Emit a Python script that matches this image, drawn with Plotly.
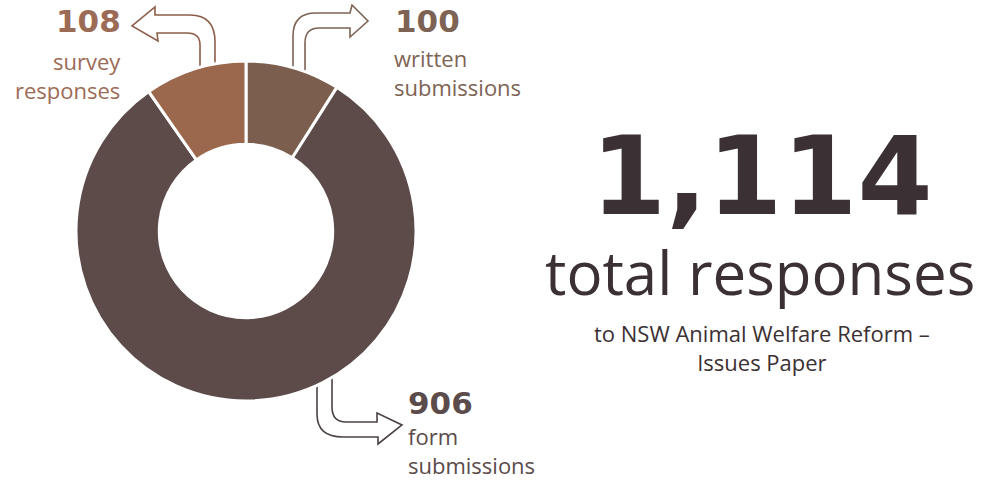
import plotly.graph_objects as go

W, H = 982, 481

categories = ["written submissions", "form submissions", "survey responses"]
values = [100, 906, 108]
slice_colors = ["#7b5e4e", "#5d4b4a", "#9b684d"]
total_label = "1,114"

FONT = "Open Sans, Lato, DejaVu Sans, sans-serif"
NUMFONT = "DejaVu Sans, Open Sans, sans-serif"


def px(x):
    return x / W


def py(y):
    return 1 - y / H


def path(cmds):
    out = []
    for c in cmds:
        if isinstance(c, str):
            out.append(c)
        else:
            out.append(f"{px(c[0]):.5f},{py(c[1]):.5f}")
    return " ".join(out)


fig = go.Figure()
fig.add_trace(go.Pie(
    labels=categories,
    values=values,
    marker=dict(colors=slice_colors, line=dict(color="white", width=3)),
    hole=0.51,
    sort=False,
    direction="clockwise",
    rotation=0,
    textinfo="none",
    hoverinfo="skip",
    showlegend=False,
    domain=dict(x=[px(76), px(416)], y=[py(402), py(60)]),
))

arrows = [
    # survey (top-left)
    (["M", (200, 72), "L", (200, 45), "Q", (200, 33), (187, 33), "L", (157, 33), "L", (158, 41),
      "L", (132, 26), "L", (155, 7), "L", (155, 15), "L", (190, 15), "Q", (215, 15), (215, 42),
      "L", (215, 72), "Z"], "#8d5e4a"),
    # written (top-right)
    (["M", (293, 72), "L", (293, 36), "Q", (293, 13), (316, 13), "L", (350, 13), "L", (352, 5),
      "L", (368, 21), "L", (350, 37), "L", (350, 28), "L", (319, 28), "Q", (305, 28), (305, 43),
      "L", (305, 72), "Z"], "#7d6353"),
    # form (bottom)
    (["M", (317, 378), "L", (317, 414), "Q", (317, 437), (343, 437), "L", (378, 437), "L", (378, 444),
      "L", (402, 425), "L", (377, 413), "L", (377, 422), "L", (346, 422), "Q", (332, 422), (332, 407),
      "L", (332, 378), "Z"], "#4d4343"),
]
for a, col in arrows:
    fig.add_shape(type="path", path=path(a), xref="paper", yref="paper",
                  line=dict(color=col, width=1.6), fillcolor="white", layer="below")

ann = []


def text(t, x, y, size, color, xanchor="left", bold=False, family=FONT):
    if bold:
        t = f"<b>{t}</b>"
    ann.append(dict(text=t, x=px(x), y=py(y), xref="paper", yref="paper",
                    xanchor=xanchor, yanchor="middle", showarrow=False, align=xanchor,
                    borderpad=0,
                    font=dict(family=family, size=size, color=color)))


# survey
text(str(values[2]), 122, 21, 31, "#9c6b55", "right", True, NUMFONT)
text("survey<br>responses", 122, 75, 22, "#9c6b55", "right")
# written
text(str(values[0]), 394, 21, 31, "#7d6353", "left", True, NUMFONT)
text("written<br>submissions", 393, 73, 22, "#7d6353", "left")
# form
text(str(values[1]), 407, 403, 31, "#5b4b4a", "left", True, NUMFONT)
text("form<br>submissions", 407, 450, 22, "#5b4b4a", "left")
# total
text(total_label, 762, 177, 108, "#3b3033", "center", True, NUMFONT)
text("total responses", 760, 272, 60, "#3b3033", "center")
text("to NSW Animal Welfare Reform \u2013<br>Issues Paper", 762, 347, 22, "#3b3033", "center")

fig.update_layout(
    width=W, height=H,
    margin=dict(l=0, r=0, t=0, b=0),
    paper_bgcolor="white", plot_bgcolor="white",
    annotations=ann,
)

fig.write_html("out.html", config={"displayModeBar": False},
               post_script="document.body.style.margin='0px';")
